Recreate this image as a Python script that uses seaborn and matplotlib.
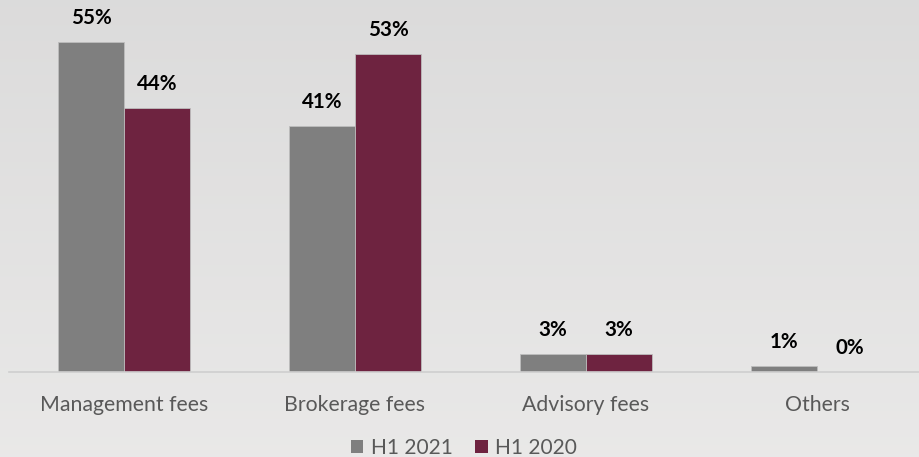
import numpy as np
import pandas as pd
import matplotlib
matplotlib.use("Agg")
import matplotlib.pyplot as plt
import seaborn as sns
from matplotlib.patches import Patch

categories = ["Management fees", "Brokerage fees", "Advisory fees", "Others"]
h1_2021 = [55, 41, 3, 1]
h1_2020 = [44, 53, 3, 0]
series_names = ["H1 2021", "H1 2020"]
colors = ["#7f7f7f", "#6e2340"]

df = pd.DataFrame({
    "category": categories * 2,
    "value": h1_2021 + h1_2020,
    "period": [series_names[0]] * 4 + [series_names[1]] * 4,
})

sns.set_theme(style="white")
plt.rcParams["font.family"] = ["Lato", "DejaVu Sans"]

W, H = 920, 457
fig = plt.figure(figsize=(W / 100, H / 100), dpi=100)

# soft grey backdrop, slightly lighter toward the bottom
bg = fig.add_axes([0, 0, 1, 1], zorder=-10)
grad = np.linspace(0, 1, 256)[:, None]
top = np.array([0.862, 0.860, 0.860])
bot = np.array([0.915, 0.912, 0.910])
img = top[None, None, :] * (1 - grad[:, :, None]) + bot[None, None, :] * grad[:, :, None]
bg.imshow(img, aspect="auto", extent=[0, 1, 0, 1])
bg.axis("off")

ax = fig.add_axes([8.5 / W, 85 / H, (W - 8.5) / W, 372 / H])
ax.patch.set_alpha(0)

sns.barplot(data=df, x="category", y="value", hue="period", palette=colors,
            width=0.571, dodge=True, ax=ax, legend=False, saturation=1,
            edgecolor="#bdbdbd", linewidth=0.6)

ax.set_xlim(-0.5, -0.5 + (W - 8.5) / 231)
ax.set_ylim(0, 62)
ax.set_yticks([])
ax.set_xlabel("")
ax.set_ylabel("")
for s in ["top", "right", "left"]:
    ax.spines[s].set_visible(False)
ax.spines["bottom"].set_color("#cfcfcf")
ax.spines["bottom"].set_linewidth(1.2)
ax.tick_params(axis="x", length=0, pad=16.5, labelsize=15.3, labelcolor="#595959")

for cont in ax.containers:
    for bar in cont:
        v = bar.get_height()
        ax.annotate(f"{v:.0f}%", (bar.get_x() + bar.get_width() / 2, v),
                    xytext=(0, 17.5), textcoords="offset points",
                    ha="center", va="center", fontsize=14.8, fontweight="bold",
                    color="#000000")

# legend
handles = [Patch(facecolor=c, edgecolor="none") for c in colors]
fig.legend(handles, series_names, loc="center", bbox_to_anchor=(464 / W, 1 - 448 / H),
           ncol=2, frameon=False, fontsize=15, labelcolor="#595959",
           handlelength=0.6, handleheight=0.6, handletextpad=0.35, columnspacing=1.1)

fig.savefig("out.png", dpi=100)
